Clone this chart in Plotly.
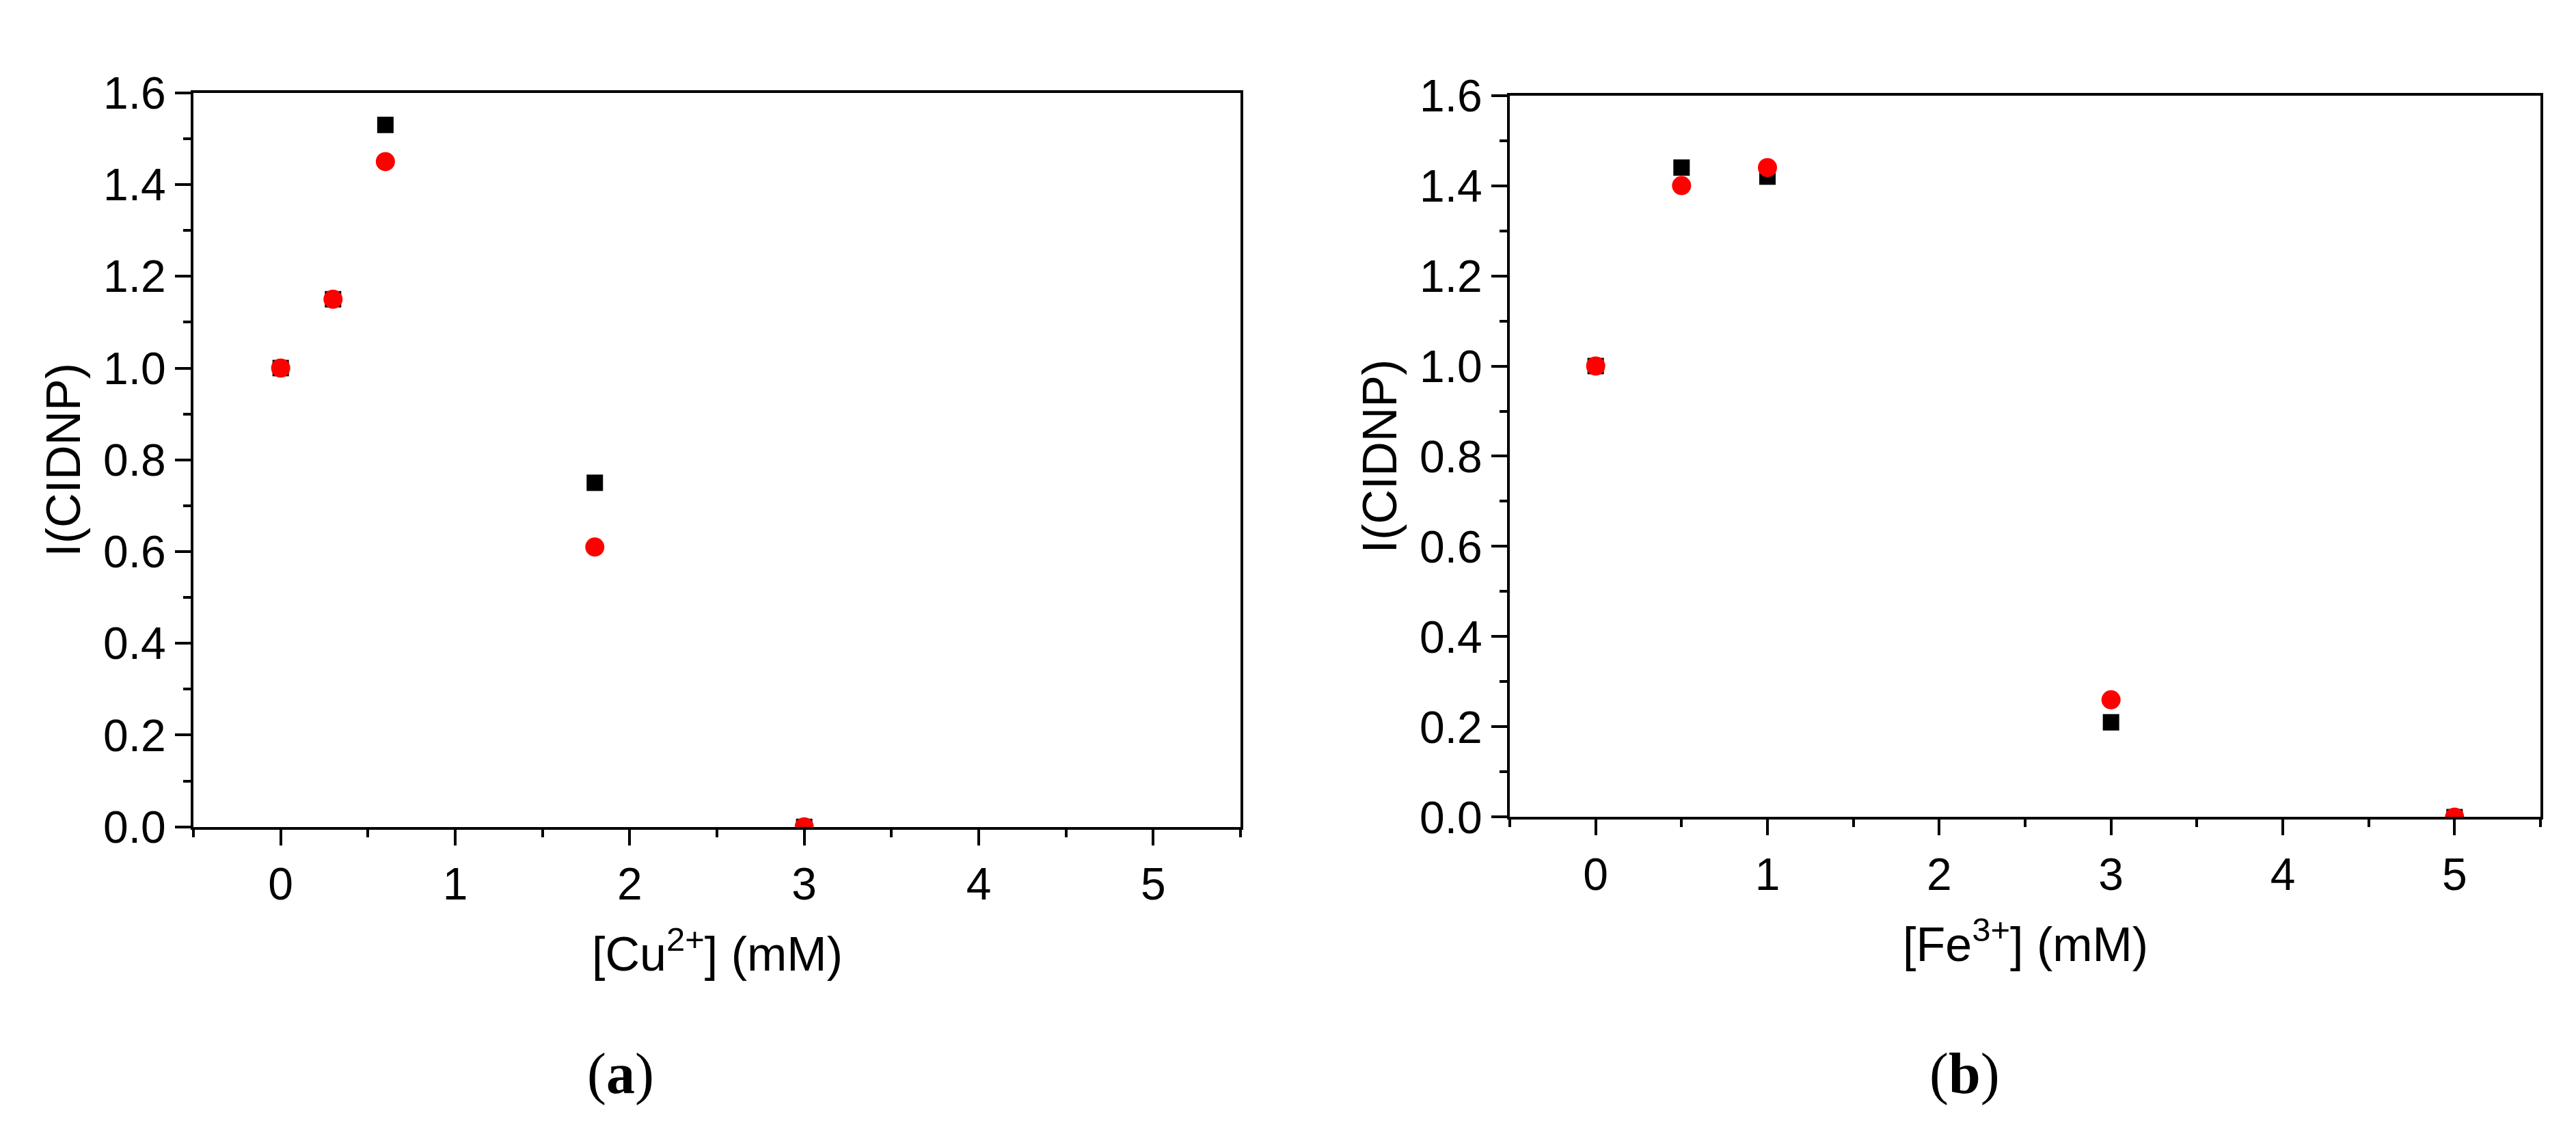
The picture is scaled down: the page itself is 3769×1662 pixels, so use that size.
import plotly.graph_objects as go

W, H = 3769, 1662

# Panel (a): Cu2+
cu_x = [0, 0.3, 0.6, 1.8, 3]
cu_black = [1.0, 1.15, 1.53, 0.75, 0.0]
cu_red = [1.0, 1.15, 1.45, 0.61, 0.0]

# Panel (b): Fe3+
fe_x = [0, 0.5, 1, 3, 5]
fe_black = [1.0, 1.44, 1.42, 0.21, 0.0]
fe_red = [1.0, 1.40, 1.44, 0.26, 0.0]

x_ticks = [0, 1, 2, 3, 4, 5]
y_ticks = [0.0, 0.2, 0.4, 0.6, 0.8, 1.0, 1.2, 1.4, 1.6]
y_title = "I(CIDNP)"
x_title_a = "[Cu<sup>2+</sup>] (mM)"
x_title_b = "[Fe<sup>3+</sup>] (mM)"
panel_labels = ["(<b>a</b>)", "(<b>b</b>)"]

# pixel geometry
A = dict(l=275, r=1807, t=95, b=1219)
B = dict(l=2201, r=3709, t=99, b=1204)

def xd(p):
    return [p["l"] / W, p["r"] / W]

def yd(p):
    return [1 - p["b"] / H, 1 - p["t"] / H]

SANS = "Liberation Sans, Arial, sans-serif"
TICKFONT = dict(family=SANS, size=66, color="black")

fig = go.Figure()

for xs, bl, rd, xa, ya in [(cu_x, cu_black, cu_red, "x", "y"), (fe_x, fe_black, fe_red, "x2", "y2")]:
    fig.add_trace(go.Scatter(x=xs, y=bl, mode="markers", xaxis=xa, yaxis=ya,
                             marker=dict(symbol="square", size=24, color="black", line=dict(width=0)),
                             showlegend=False))
    fig.add_trace(go.Scatter(x=xs, y=rd, mode="markers", xaxis=xa, yaxis=ya,
                             marker=dict(symbol="circle", size=28, color="#ff0000", line=dict(width=0)),
                             showlegend=False))

def xaxis(dom, anchor):
    return dict(domain=dom, anchor=anchor, range=[-0.5, 5.5], tickvals=x_ticks,
                ticktext=[str(v) for v in x_ticks],
                showline=True, linecolor="black", linewidth=4, mirror=True,
                ticks="outside", ticklen=23, tickwidth=4, tickcolor="black",
                minor=dict(ticks="outside", ticklen=11, tickwidth=4, tickcolor="black",
                           tickvals=[-0.5, 0.5, 1.5, 2.5, 3.5, 4.5, 5.5]),
                showgrid=False, zeroline=False, tickfont=TICKFONT, fixedrange=True)

def yaxis(dom, anchor):
    return dict(domain=dom, anchor=anchor, range=[0, 1.6], tickvals=y_ticks,
                ticktext=[f"{v:.1f}" for v in y_ticks],
                showline=True, linecolor="black", linewidth=4, mirror=True,
                ticks="outside", ticklen=23, tickwidth=4, tickcolor="black",
                minor=dict(ticks="outside", ticklen=11, tickwidth=4, tickcolor="black",
                           tickvals=[0.1, 0.3, 0.5, 0.7, 0.9, 1.1, 1.3, 1.5]),
                showgrid=False, zeroline=False, tickfont=TICKFONT, fixedrange=True)

annotations = []
for p, xt, lab, labx in [(A, x_title_a, panel_labels[0], 900), (B, x_title_b, panel_labels[1], 2866)]:
    cx = (p["l"] + p["r"]) / 2
    cy = (p["t"] + p["b"]) / 2
    annotations.append(dict(text=xt, x=cx / W, y=1 - (p["b"] + 190) / H, xref="paper", yref="paper",
                            xanchor="center", yanchor="middle", showarrow=False,
                            font=dict(family=SANS, size=70, color="black")))
    annotations.append(dict(text=y_title, x=(p["l"] - 190) / W, y=1 - cy / H, xref="paper", yref="paper",
                            xanchor="center", yanchor="middle", textangle=-90, showarrow=False,
                            font=dict(family=SANS, size=70, color="black")))
    annotations.append(dict(text=lab, x=labx / W, y=1 - 1597 / H, xref="paper", yref="paper",
                            xanchor="center", yanchor="middle", showarrow=False,
                            font=dict(family="Liberation Serif, Times New Roman, serif", size=84, color="black")))

fig.update_layout(
    width=W, height=H, margin=dict(l=0, r=0, t=0, b=0),
    paper_bgcolor="white", plot_bgcolor="white",
    xaxis=xaxis(xd(A), "y"), yaxis=yaxis(yd(A), "x"),
    xaxis2=xaxis(xd(B), "y2"), yaxis2=yaxis(yd(B), "x2"),
    annotations=annotations, showlegend=False,
)

fig.write_html("out.html", config={"displayModeBar": False})
